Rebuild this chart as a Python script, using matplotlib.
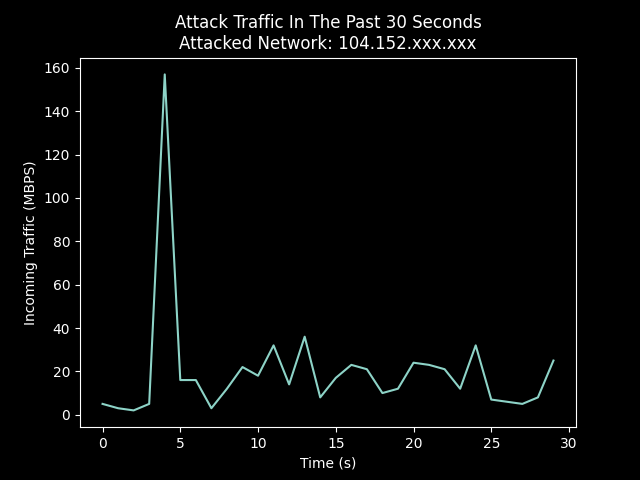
import matplotlib
matplotlib.use("Agg")
import matplotlib.pyplot as plt

seconds = list(range(30))
traffic = [5, 3, 2, 5, 157, 16, 16, 3, 12, 22, 18, 32, 14, 36, 8,
           17, 23, 21, 10, 12, 24, 23, 21, 12, 32, 7, 6, 5, 8, 25]

plt.style.use("dark_background")
fig, ax = plt.subplots(figsize=(6.4, 4.8), dpi=100)
ax.plot(seconds, traffic)
ax.set_title("Attack Traffic In The Past 30 Seconds\nAttacked Network: 104.152.xxx.xxx")
ax.set_xlabel("Time (s)")
ax.set_ylabel("Incoming Traffic (MBPS)")
fig.savefig("out.png")
